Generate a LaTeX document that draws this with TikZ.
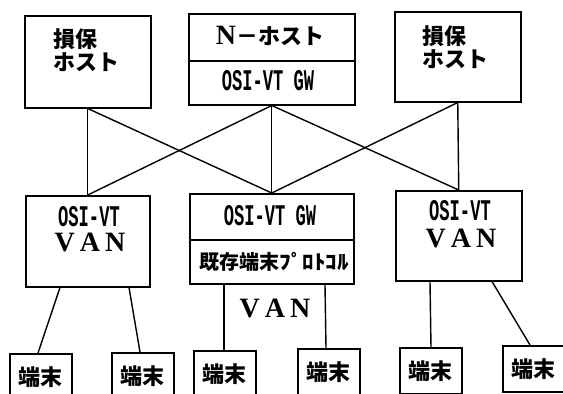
\documentclass[tikz,border=0pt]{standalone}
\usepackage{fontspec}
\newfontfamily\jp{Noto Sans CJK JP}
\newfontfamily\osi{Liberation Mono}[FakeStretch=0.57]
\newfontfamily\van{Liberation Serif}
\tikzset{
  box/.style={draw, line width=1.5pt, inner sep=0pt, anchor=north west},
  term/.style={box, minimum width=62pt, minimum height=46pt, font=\jp\bfseries\fontsize{22}{22}\selectfont},
  conn/.style={line width=1.4pt},
  jptxt/.style={font=\jp\bfseries\fontsize{22}{23}\selectfont, align=left, inner sep=0pt},
  ositxt/.style={font=\osi\bfseries\fontsize{30}{30}\selectfont, inner sep=0pt, text height=17pt, text depth=0pt},
  vantxt/.style={font=\van\bfseries\fontsize{28}{28}\selectfont, inner sep=0pt, text height=18pt, text depth=0pt}
}
\begin{document}
\begin{tikzpicture}[x=1pt, y=-1pt]
\useasboundingbox (0,0) rectangle (563,394);
\clip (0,0) rectangle (563,394);
% top row
\node[box, minimum width=126pt, minimum height=92pt] (ltop) at (24,15) {};
\node[jptxt] (ltopt) at (86,50) {損保\\ホスト};
\node[box, minimum width=166pt, minimum height=47pt] (nhost) at (188,13) {};
\node[inner sep=0pt] (nhostt) at (270,36) {{\van\bfseries\fontsize{28}{28}\selectfont N}{\jp\bfseries\fontsize{22}{22}\selectfont －ホスト}};
\node[box, minimum width=166pt, minimum height=44pt] (ngw) at (188,60) {};
\node[ositxt] (ngwt) at (268,82) {OSI-VT GW};
\node[box, minimum width=126pt, minimum height=90pt] (rtop) at (394,11) {};
\node[jptxt] (rtopt) at (455,47) {損保\\ホスト};
% middle row
\node[box, minimum width=124pt, minimum height=91pt] (lvan) at (25,195) {};
\node[ositxt] (lvant1) at (89,218) {OSI-VT};
\node[vantxt] (lvant2) at (90,242) {V\hspace{5pt}A\hspace{5pt}N};
\node[box, minimum width=164pt, minimum height=46pt] (cgw) at (189,193) {};
\node[ositxt] (cgwt) at (270,217) {OSI-VT GW};
\node[box, minimum width=164pt, minimum height=44pt] (cprot) at (189,239) {};
\node[inner sep=0pt] (cprott) at (274,262) {{\jp\bfseries\fontsize{20}{20}\selectfont 既存端末\scalebox{1.15}[1]{ﾌﾟﾛﾄｺﾙ}}};
\node[vantxt] (cvan) at (275,308) {V\hspace{5pt}A\hspace{5pt}N};
\node[box, minimum width=126pt, minimum height=90pt] (rvan) at (395,190) {};
\node[ositxt] (rvant1) at (460,212) {OSI-VT};
\node[vantxt] (rvant2) at (461,238) {V\hspace{5pt}A\hspace{5pt}N};
% terminals
\node[term] (t1) at (9,353) {端末};
\node[term] (t2) at (111,352) {端末};
\node[term] (t3) at (193,350) {端末};
\node[term] (t4) at (297,348) {端末};
\node[term] (t5) at (399,347) {端末};
\node[term] (t6) at (502,345) {端末};
% cross connections
\draw[conn] (ltop.south) -- (lvan.north);
\draw[conn] (ltop.south) -- (cgw.north);
\draw[conn] (ngw.south) -- (lvan.north);
\draw[conn] (ngw.south) -- (cgw.north);
\draw[conn] (ngw.south) -- (rvan.north);
\draw[conn] (rtop.south) -- (cgw.north);
\draw[conn] (rtop.south) -- (rvan.north);
% terminal connections
\draw[conn] ([xshift=35pt]lvan.south west) -- ([xshift=29pt]t1.north west);
\draw[conn] ([xshift=104pt]lvan.south west) -- ([xshift=29pt]t2.north west);
\draw[conn] ([xshift=35pt]cprot.south west) -- ([xshift=31pt]t3.north west);
\draw[conn] ([xshift=136pt]cprot.south west) -- ([xshift=29pt]t4.north west);
\draw[conn] ([xshift=35pt]rvan.south west) -- ([xshift=32pt]t5.north west);
\draw[conn] ([xshift=97pt]rvan.south west) -- ([xshift=28pt]t6.north west);
\end{tikzpicture}
\end{document}
